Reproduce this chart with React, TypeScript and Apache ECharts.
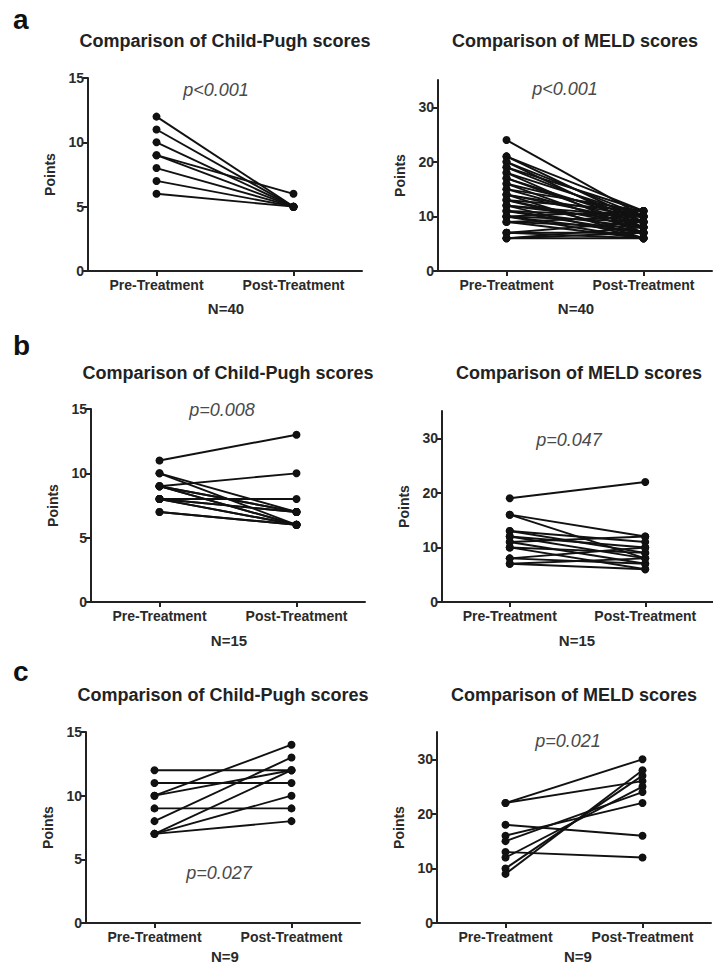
import React, { useEffect, useRef } from "react";
import * as echarts from "echarts";

const categories = ["Pre-Treatment", "Post-Treatment"];

// Panel a (N=40)
const aChildPre = [12, 11, 10, 9, 9, 8, 7, 6];
const aChildPost = [5, 5, 5, 6, 5, 5, 5, 5];
const aMeldPre = [24, 21, 21, 20, 20, 19, 19, 18, 18, 17, 17, 16, 16, 15, 15, 14, 14, 14, 13, 13, 13, 12, 12, 12, 11, 11, 11, 10, 10, 10, 10, 9, 9, 9, 7, 7, 7, 6, 6, 6];
const aMeldPost = [10, 11, 9, 10, 8, 11, 9, 10, 7, 9, 8, 10, 7, 11, 8, 9, 6, 10, 8, 11, 7, 9, 10, 6, 8, 7, 10, 9, 7, 6, 11, 8, 6, 10, 7, 9, 6, 6, 8, 7];

// Panel b (N=15)
const bChildPre = [11, 10, 10, 9, 9, 9, 9, 8, 8, 8, 8, 8, 7, 7, 9];
const bChildPost = [13, 7, 6, 10, 7, 6, 6, 8, 7, 6, 7, 6, 6, 6, 7];
const bMeldPre = [19, 16, 16, 13, 13, 12, 12, 11, 11, 10, 10, 8, 8, 7, 7];
const bMeldPost = [22, 12, 8, 11, 9, 10, 8, 12, 7, 9, 6, 10, 7, 8, 6];

// Panel c (N=9)
const cChildPre = [12, 11, 10, 10, 9, 8, 7, 7, 7];
const cChildPost = [12, 11, 14, 12, 9, 13, 12, 10, 8];
const cMeldPre = [22, 22, 18, 16, 15, 13, 12, 10, 9];
const cMeldPost = [30, 26, 16, 22, 24, 12, 25, 27, 28];

const childTicks = [0, 5, 10, 15];
const meldTicks = [0, 10, 20, 30];

const titles = ["Comparison of Child-Pugh scores", "Comparison of MELD scores"];
const pLabels = ["p<0.001", "p<0.001", "p=0.008", "p=0.047", "p=0.027", "p=0.021"];
const nLabels = ["N=40", "N=40", "N=15", "N=15", "N=9", "N=9"];
const panelLetters = ["a", "b", "c"];

const FONT = '"Liberation Sans", Arial, Helvetica, sans-serif';

export default function App() {
  const ref = useRef<HTMLDivElement>(null);

  useEffect(() => {
    document.body.style.margin = "0";
    if (!ref.current) return;
    const chart = echarts.init(ref.current, null, { renderer: "svg" });

    // layout per panel (pixels)
    const grids = [
      { left: 88, top: 78, width: 274, height: 193 },
      { left: 438, top: 80, width: 274, height: 191 },
      { left: 91, top: 409, width: 274, height: 193 },
      { left: 442, top: 411, width: 274, height: 191 },
      { left: 86, top: 732, width: 274, height: 191 },
      { left: 437, top: 732, width: 274, height: 191 },
    ];
    const panelData: [number[], number[]][] = [
      [aChildPre, aChildPost],
      [aMeldPre, aMeldPost],
      [bChildPre, bChildPost],
      [bMeldPre, bMeldPost],
      [cChildPre, cChildPost],
      [cMeldPre, cMeldPost],
    ];

    const xAxis = grids.map((_, i) => ({
      type: "category",
      gridIndex: i,
      data: categories,
      boundaryGap: true,
      axisLine: { show: true, lineStyle: { color: "#222", width: 2 } },
      axisTick: { show: true, alignWithLabel: true, length: 5, lineStyle: { color: "#222", width: 2 } },
      axisLabel: { color: "#2a2a2a", fontWeight: "bold", fontSize: 14, fontFamily: FONT, margin: 7 },
      splitLine: { show: false },
    }));

    const yAxis = grids.map((_, i) => {
      const isMeld = i % 2 === 1;
      const ticks = isMeld ? meldTicks : childTicks;
      return {
        type: "value",
        gridIndex: i,
        min: 0,
        max: isMeld ? 35 : 15,
        interval: isMeld ? 10 : 5,
        name: "Points",
        nameLocation: "middle",
        nameGap: 31,
        nameTextStyle: { color: "#2a2a2a", fontWeight: "bold", fontSize: 14, fontFamily: FONT },
        axisLine: { show: true, lineStyle: { color: "#222", width: 2 } },
        axisTick: { show: true, length: 5, lineStyle: { color: "#222", width: 2 }, customValues: ticks },
        axisLabel: { color: "#2a2a2a", fontWeight: "bold", fontSize: 14, fontFamily: FONT, margin: 4, customValues: ticks },
        splitLine: { show: false },
      };
    });

    const series: any[] = [];
    panelData.forEach(([pre, post], i) => {
      pre.forEach((v, k) => {
        series.push({
          type: "line",
          xAxisIndex: i,
          yAxisIndex: i,
          data: [v, post[k]],
          symbol: "circle",
          symbolSize: 8,
          showSymbol: true,
          lineStyle: { color: "#111", width: 1.9 },
          itemStyle: { color: "#111" },
          silent: true,
        });
      });
    });

    const graphic: any[] = [];
    const titleY = [41, 373, 695];
    const pPos = [
      [216, 90], [565, 89], [222, 410], [569, 440], [219, 873], [568, 741],
    ];
    const nPos = [
      [226, 308], [576, 308], [229, 640], [577, 640], [225, 956], [578, 956],
    ];
    grids.forEach((g, i) => {
      const row = Math.floor(i / 2);
      graphic.push({
        type: "text",
        x: g.left + 137,
        y: titleY[row],
        style: {
          text: titles[i % 2],
          fill: "#222",
          font: `bold 18px ${FONT}`,
          align: "center",
          verticalAlign: "middle",
        },
      });
      graphic.push({
        type: "text",
        x: pPos[i][0],
        y: pPos[i][1],
        style: {
          text: pLabels[i],
          fill: "#4a4a4a",
          font: `italic 18px ${FONT}`,
          align: "center",
          verticalAlign: "middle",
        },
      });
      graphic.push({
        type: "text",
        x: nPos[i][0],
        y: nPos[i][1],
        style: {
          text: nLabels[i],
          fill: "#2a2a2a",
          font: `bold 15px ${FONT}`,
          align: "center",
          verticalAlign: "middle",
        },
      });
    });
    const letterY = [19, 345, 671];
    panelLetters.forEach((l, r) => {
      graphic.push({
        type: "text",
        x: 13,
        y: letterY[r],
        style: {
          text: l,
          fill: "#111",
          font: `bold 28px ${FONT}`,
          align: "left",
          verticalAlign: "middle",
        },
      });
    });

    chart.setOption({
      animation: false,
      backgroundColor: "#ffffff",
      grid: grids.map((g) => ({ ...g, containLabel: false })),
      xAxis,
      yAxis,
      series,
      graphic,
    });

    return () => chart.dispose();
  }, []);

  return <div ref={ref} style={{ width: 713, height: 966 }} />;
}
